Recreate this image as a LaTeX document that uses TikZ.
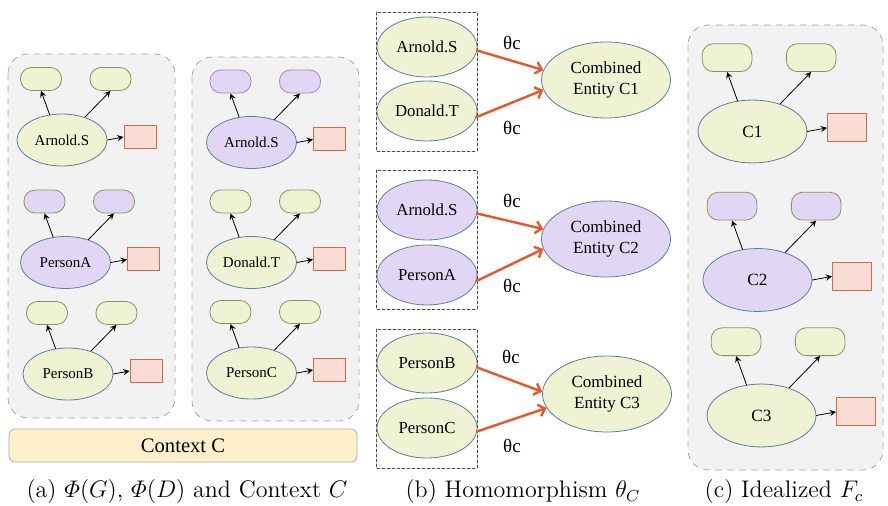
\documentclass[tikz,border=0pt]{standalone}
\usepackage{amsmath}
\usepackage{fontspec}
\newfontfamily\tnr{Liberation Serif}
\usetikzlibrary{shapes.geometric,arrows.meta}
\definecolor{grn}{HTML}{EFF3D3}
\definecolor{prp}{HTML}{E1D7F5}
\definecolor{entline}{HTML}{5F7E98}
\definecolor{pilld}{HTML}{8E9163}
\definecolor{prpd}{HTML}{A983CC}
\definecolor{valf}{HTML}{F9DCD4}
\definecolor{vald}{HTML}{CF6A4A}
\definecolor{panelf}{HTML}{F2F2F2}
\definecolor{paneld}{HTML}{A8A8A8}
\definecolor{ctxf}{HTML}{FDF0CB}
\definecolor{ctxd}{HTML}{B5AE9C}
\definecolor{hom}{HTML}{E8562A}
\begin{document}
\begin{tikzpicture}[x=0.5pt,y=-0.5pt,>=stealth,line join=round,line cap=round,
    ent/.style={ellipse,draw=entline,fill=#1,inner sep=0pt},
    attr/.style={rectangle,rounded corners=5.5pt,fill=#1,inner sep=0pt},
    val/.style={rectangle,draw=vald,fill=valf,line width=0.5pt,inner sep=0pt},
    panel/.style={draw=paneld,fill=panelf,dashed,rounded corners=10pt},
    pairbox/.style={draw=black!70,dash pattern=on 1.5pt off 1pt,line width=0.4pt},
    hm/.style={->,draw=hom,line width=1.2pt,>={Straight Barb[length=3pt,width=6pt]}},
    lbl/.style={font=\tnr\fontsize{9.5}{10}\selectfont}]
\useasboundingbox (0,0) rectangle (888,506);
% panels
\draw[panel] (8,54) rectangle (175,418);
\draw[panel] (192,57) rectangle (359,421);
\draw[panel] (688,25) rectangle (883,470);
\node[draw=ctxd,fill=ctxf,rounded corners=3pt,minimum width=174pt,minimum height=16.5pt,
  font=\tnr\fontsize{10.3}{11}\selectfont] (ctx) at (183,445.5) {Context C};
% entity groups: ellipse, two attributes, one value
\foreach \n/\cx/\cy/\s/\fs/\ef/\pd/\txt in {
    a1/62/140/1/7.5/grn/pilld/Arnold.S,
    a2/65.5/262.5/1/7.5/prp/pilld/PersonA,
    a3/68/374/1/7.5/grn/pilld/PersonB,
    b1/251.5/142.5/1/7.5/prp/prpd/Arnold.S,
    b2/251.5/262.5/1/7.5/grn/pilld/Donald.T,
    b3/251.5/373/1/7.5/grn/pilld/PersonC,
    c1/752.5/131.5/1.21/8.6/grn/pilld/C1,
    c2/757.5/280/1.21/8.6/prp/pilld/C2,
    c3/761.5/415.5/1.21/8.6/grn/pilld/C3}
{
  \node[ent=\ef,minimum width=\s*45pt,minimum height=\s*26pt,
    font=\tnr\fontsize{\fs}{\fs}\selectfont] (\n) at (\cx,\cy) {\txt};
  \node[attr=\ef,draw=\pd,minimum width=\s*20.5pt,minimum height=\s*11.5pt]
    (\n p) at ([shift={(-21*\s,-61*\s)}]\n.center) {};
  \node[attr=\ef,draw=\pd,minimum width=\s*20.5pt,minimum height=\s*11.5pt]
    (\n q) at ([shift={(48.5*\s,-61*\s)}]\n.center) {};
  \node[val,minimum width=\s*16pt,minimum height=\s*11.5pt]
    (\n v) at ([shift={(78*\s,-3*\s)}]\n.center) {};
  \draw[->] (\n.116) -- (\n p.south);
  \draw[->] (\n.45) -- (\n q.south);
  \draw[->] (\n.east) -- (\n v.west);
}
% homomorphism
\draw[pairbox] (376,12) rectangle (477,151);
\draw[pairbox] (376,170) rectangle (477,309);
\draw[pairbox] (376,329) rectangle (477,468);
\tikzset{pent/.style={ent=#1,minimum width=50pt,minimum height=30pt,font=\tnr\fontsize{8.4}{9}\selectfont},
  cent/.style={ent=#1,minimum width=64.5pt,minimum height=38pt,align=center,font=\tnr\fontsize{8.5}{10.5}\selectfont}}
\node[pent=grn] (h1) at (427,47) {Arnold.S};
\node[pent=grn] (h2) at (427,111) {Donald.T};
\node[pent=prp] (h3) at (427,210) {Arnold.S};
\node[pent=prp] (h4) at (427,275) {PersonA};
\node[pent=grn] (h5) at (427,363) {PersonB};
\node[pent=grn] (h6) at (427,428) {PersonC};
\node[cent=grn] (k1) at (606,80) {Combined\\Entity C1};
\node[cent=prp] (k2) at (606,239) {Combined\\Entity C2};
\node[cent=grn] (k3) at (607,394) {Combined\\Entity C3};
\draw[hm] (h1.-4) -- (k1.171);
\draw[hm] (h2.-7) -- (k1.189);
\draw[hm] (h3.-4) -- (k2.171);
\draw[hm] (h4.-7) -- (k2.189);
\draw[hm] (h5.-5) -- (k3.178);
\draw[hm] (h6.-4) -- (k3.193);
\node[lbl] (t1) at (512,43) {θc};
\node[lbl] (t2) at (512,128) {θc};
\node[lbl] (t3) at (512,201) {θc};
\node[lbl] (t4) at (512,286) {θc};
\node[lbl] (t5) at (511,357) {θc};
\node[lbl] (t6) at (512,446) {θc};
% captions
\node[font=\large] (capa) at (187,492) {(a) $\varPhi(G)$, $\varPhi(D)$ and Context $C$};
\node[font=\large] (capb) at (523,492) {(b) Homomorphism $\theta_C$};
\node[font=\large] (capc) at (784,492) {(c) Idealized $F_c$};
\end{tikzpicture}
\end{document}
